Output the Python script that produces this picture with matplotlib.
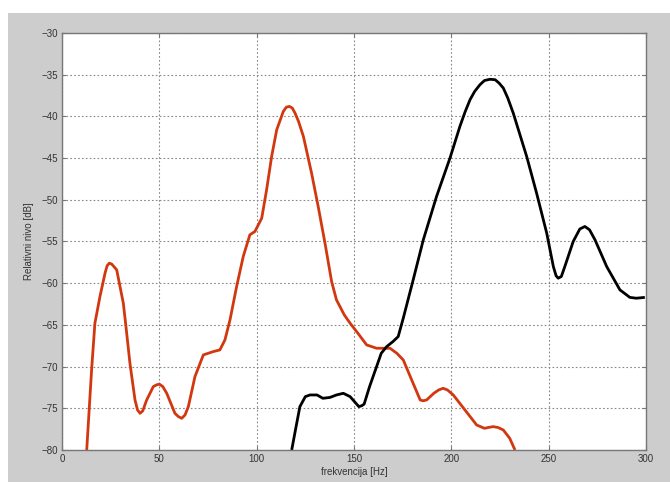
import matplotlib
matplotlib.use("Agg")
import matplotlib.pyplot as plt
from matplotlib.patches import Rectangle

# red curve (frequency in Hz, level in dB)
red_f = [12.7, 15.2, 16.9, 19.5, 22.1, 23.2, 24.3, 25.5, 28.1, 31.5, 33.0,
         34.9, 37.5, 38.8, 40.1, 41.5, 43.5, 46.9, 48.5, 50.0, 51.8, 53.8,
         58.0, 59.8, 61.5, 63.2, 64.9, 68.3, 72.6, 77.7, 81.1, 83.7, 86.3,
         89.7, 93.1, 96.5, 99.1, 102.6, 105.1, 107.7, 110.3, 113.7, 115.2,
         116.8, 118.3, 119.7, 121.5, 124.0, 128.2, 131.6, 135.1, 138.5,
         141.0, 145.0, 148.0, 152.0, 156.5, 161.6, 168.5, 172.0, 175.3,
         180.0, 184.0, 185.5, 187.3, 191.0, 193.5, 195.8, 198.0, 201.0,
         207.0, 213.0, 217.0, 219.0, 221.5, 224.0, 226.7, 230.0, 232.7]
red_db = [-80.0, -70.4, -64.8, -61.6, -58.8, -57.9, -57.6, -57.7, -58.4, -62.4,
          -65.5, -69.6, -74.0, -75.2, -75.6, -75.3, -74.0, -72.4, -72.2, -72.1,
          -72.4, -73.2, -75.6, -76.0, -76.2, -75.8, -74.8, -71.2, -68.6, -68.2,
          -68.0, -66.8, -64.4, -60.4, -56.8, -54.2, -53.8, -52.2, -48.8, -44.8,
          -41.6, -39.4, -38.9, -38.8, -39.0, -39.6, -40.6, -42.4, -46.8, -50.8,
          -55.2, -59.8, -62.0, -63.8, -64.8, -66.0, -67.4, -67.8, -67.8, -68.4,
          -69.2, -71.8, -74.0, -74.1, -74.0, -73.2, -72.8, -72.6, -72.8, -73.4,
          -75.2, -77.0, -77.4, -77.3, -77.2, -77.3, -77.6, -78.6, -80.0]

# black curve
black_f = [118.0, 120.0, 122.2, 125.0, 127.4, 131.0, 134.0, 137.6, 141.0,
           144.5, 148.0, 151.0, 152.5, 153.9, 155.2, 158.0, 161.6, 164.0,
           166.8, 170.0, 172.7, 175.3, 180.4, 185.6, 192.4, 199.3, 204.4,
           207.0, 209.6, 212.0, 214.7, 217.0, 219.8, 222.5, 224.5, 226.7,
           229.0, 231.8, 238.7, 243.8, 249.0, 252.4, 253.8, 254.9, 256.5,
           258.3, 262.6, 266.0, 268.6, 271.0, 273.8, 279.8, 286.6, 291.7,
           295.0, 299.4]
black_db = [-80.0, -77.5, -74.8, -73.6, -73.4, -73.4, -73.8, -73.7, -73.4,
            -73.2, -73.6, -74.4, -74.8, -74.7, -74.5, -72.4, -70.0, -68.4,
            -67.6, -67.0, -66.4, -64.2, -59.6, -54.8, -49.6, -45.0, -41.2,
            -39.5, -38.0, -37.0, -36.2, -35.7, -35.55, -35.6, -36.0, -36.6,
            -37.8, -39.6, -44.8, -49.2, -54.0, -58.0, -59.1, -59.4, -59.2,
            -58.0, -55.0, -53.5, -53.2, -53.6, -54.8, -58.0, -60.8, -61.7,
            -61.8, -61.7]

x_ticks = [0, 50, 100, 150, 200, 250, 300]
y_ticks = [-80, -75, -70, -65, -60, -55, -50, -45, -40, -35, -30]

plt.rcParams['font.family'] = 'Liberation Sans'

fig = plt.figure(figsize=(6.7, 4.82), dpi=100, facecolor='white')
# gray matlab-style figure background
fig.patches.append(Rectangle((8 / 670, 0), 1, (482 - 13) / 482,
                             transform=fig.transFigure, facecolor='#cdcdcd',
                             edgecolor='none', zorder=-1))

ax = fig.add_axes([62 / 670, 32 / 482, 584 / 670, 417 / 482])
ax.set_facecolor('white')

ax.plot(red_f, red_db, color='#d2380f', linewidth=2.0,
        solid_capstyle='butt', solid_joinstyle='round')
ax.plot(black_f, black_db, color='black', linewidth=2.0,
        solid_capstyle='butt', solid_joinstyle='round')

ax.set_xlim(0, 300)
ax.set_ylim(-80, -30)
ax.set_xticks(x_ticks)
ax.set_yticks(y_ticks)
ax.grid(True, linestyle=(0, (1.5, 2)), color='#888888', linewidth=0.8)
ax.tick_params(direction='in', top=True, right=True, labelsize=7,
               labelcolor='#333333', color='#777777', length=3, pad=3)
for s in ax.spines.values():
    s.set_color('#777777')
    s.set_linewidth(1.0)

ax.set_xlabel('frekvencija [Hz]', fontsize=7, color='#333333', labelpad=2)
ax.set_ylabel('Relativni nivo [dB]', fontsize=7, color='#333333', labelpad=5)

plt.savefig('out.png', dpi=100, facecolor=fig.get_facecolor())
